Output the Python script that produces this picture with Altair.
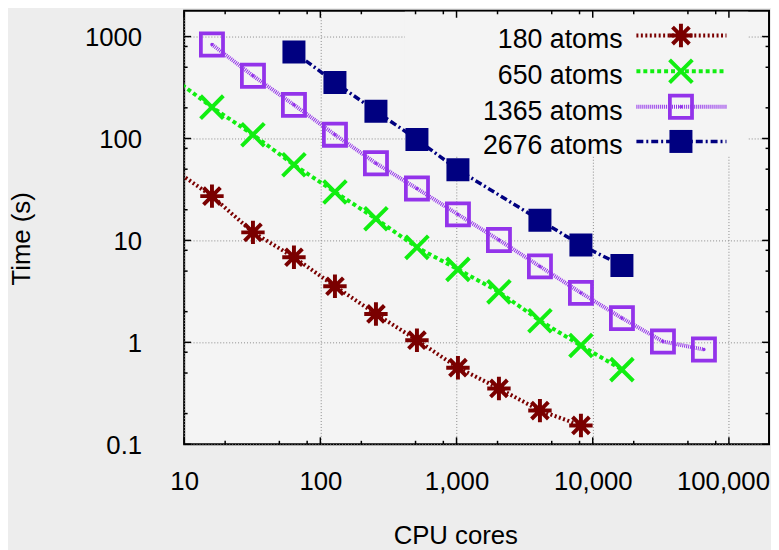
import altair as alt
import pandas as pd

# ---------------- data ----------------
series_names = ["180 atoms", "650 atoms", "1365 atoms", "2676 atoms"]

cores_180 = [8, 16, 32, 64, 128, 256, 512, 1024, 2048, 4096, 8192]
time_180 = [52, 27.2, 12.0, 6.84, 3.55, 1.9, 1.05, 0.564, 0.353, 0.214, 0.153]

cores_650 = [8, 16, 32, 64, 128, 256, 512, 1024, 2048, 4096, 8192, 16384]
time_650 = [405, 203, 109, 55.2, 29.9, 16.3, 8.55, 5.2, 3.13, 1.63, 0.93, 0.54]

cores_1365 = [16, 32, 64, 128, 256, 512, 1024, 2048, 4096, 8192, 16384, 32768, 65536]
time_1365 = [836, 413, 214, 109, 57.2, 32.3, 18.0, 10.1, 5.56, 3.06, 1.73, 1.02, 0.85]

cores_2676 = [64, 128, 256, 512, 1024, 4096, 8192, 16384]
time_2676 = [706, 355, 185, 98, 49.3, 15.8, 9.0, 5.68]

x_major = [10, 100, 1000, 10000, 100000]
x_minor = [20, 50, 80, 200, 500, 800, 2000, 5000, 8000, 20000, 50000, 80000]
y_major = [0.1, 1, 10, 100, 1000]
y_minor = [0.2, 0.5, 0.8, 2, 5, 8, 20, 50, 80, 200, 500, 800]

# ---------------- styling ----------------
W, H = 591, 438
FONT = "Liberation Sans"
BG = "#ededed"
PLOT_BG = "#f4f4f4"

colors = ["#7a0000", "#11ee11", "#9333ea", "#000080"]
dashes = [[2, 2.5], [4, 3], [1, 1], [7, 3, 2, 3]]
line_widths = [4, 4, 4, 3.5]

ASTERISK = "M-1,0L1,0M0,-1L0,1M-0.72,-0.72L0.72,0.72M-0.72,0.72L0.72,-0.72"
XCROSS = "M-1,-1L1,1M-1,1L1,-1"

marker_specs = [
    dict(shape=ASTERISK, filled=False, size=560, strokeWidth=4),
    dict(shape=XCROSS, filled=False, size=530, strokeWidth=4),
    dict(shape="square", filled=False, size=500, strokeWidth=3.8),
    dict(shape="square", filled=True, size=540, strokeWidth=0),
]

xscale = alt.Scale(type="log", domain=[10, 197000], nice=False)
yscale = alt.Scale(type="log", domain=[0.1, 1790], nice=False)

xaxis = alt.Axis(
    values=x_major, format=",", ticks=False, domain=False, grid=True,
    gridDash=[1, 2], gridColor="#8a8a8a", gridWidth=1,
    labelFont=FONT, labelFontSize=26, labelColor="black", labelPadding=25,
    labelOverlap=False, labelFlush=False,
    labelOffset={"expr": "datum.value >= 100000 ? -6 : 0"},
    title="CPU cores", titleFont=FONT, titleFontSize=26, titleFontWeight="normal",
    titleColor="black", titleX=274, titleY=100, titleAlign="center",
    titleBaseline="alphabetic",
)
yaxis = alt.Axis(
    values=y_major, format="~g", ticks=False, domain=False, grid=True,
    gridDash=[1, 2], gridColor="#8a8a8a", gridWidth=1,
    labelFont=FONT, labelFontSize=26, labelColor="black", labelPadding=43,
    labelOverlap=False, labelBaseline="middle", labelOffset=1.5,
    title="Time (s)", titleFont=FONT, titleFontSize=26, titleFontWeight="normal",
    titleColor="black", titleX=-156, titleY=230, titleAlign="center",
    titleBaseline="alphabetic", titleAngle=270,
)


def X(field):
    return alt.X(f"{field}:Q", scale=xscale, axis=xaxis)


def Y(field):
    return alt.Y(f"{field}:Q", scale=yscale, axis=yaxis)


one = pd.DataFrame({"a": [0]})
layers = []

# grid carrier (axes) – invisible
grid_df = pd.DataFrame({"cores": [10, 100], "time": [1, 10]})
layers.append(
    alt.Chart(grid_df).mark_point(opacity=0).encode(x=X("cores"), y=Y("time"))
)

# opaque legend box (hides grid lines beneath it)
layers.append(
    alt.Chart(one).mark_rect(fill=PLOT_BG, stroke=None).encode(
        x=alt.value(223), x2=alt.value(570), y=alt.value(1), y2=alt.value(147)
    )
)

all_x = [cores_180, cores_650, cores_1365, cores_2676]
all_y = [time_180, time_650, time_1365, time_2676]

# data lines and markers
for i, name in enumerate(series_names):
    df = pd.DataFrame({"cores": all_x[i], "time": all_y[i]})
    layers.append(
        alt.Chart(df).mark_line(
            color=colors[i], strokeDash=dashes[i], strokeWidth=line_widths[i], clip=True
        ).encode(x=X("cores"), y=Y("time"))
    )
    ms = marker_specs[i]
    layers.append(
        alt.Chart(df).mark_point(
            color=colors[i], opacity=1, clip=True, **ms
        ).encode(x=X("cores"), y=Y("time"))
    )
    if i == 2:
        layers.append(
            alt.Chart(df).mark_point(
                shape="circle", filled=True, color=colors[i], size=12, opacity=1, clip=True
            ).encode(x=X("cores"), y=Y("time"))
        )

# legend content
row_y = [25, 61, 97, 132]
for i, name in enumerate(series_names):
    ly = row_y[i]
    layers.append(
        alt.Chart(one).mark_text(
            text=name, align="right", baseline="alphabetic", font=FONT,
            fontSize=27, color="black"
        ).encode(x=alt.value(443), y=alt.value(ly + 13))
    )
    layers.append(
        alt.Chart(one).mark_rule(
            color=colors[i], strokeDash=dashes[i], strokeWidth=line_widths[i]
        ).encode(x=alt.value(457), x2=alt.value(548), y=alt.value(ly))
    )
    layers.append(
        alt.Chart(one).mark_point(color=colors[i], opacity=1, **marker_specs[i]).encode(
            x=alt.value(502), y=alt.value(ly)
        )
    )
    if i == 2:
        layers.append(
            alt.Chart(one).mark_point(
                shape="circle", filled=True, color=colors[i], size=12, opacity=1
            ).encode(x=alt.value(502), y=alt.value(ly))
        )

# inward ticks on all four sides
xmaj = pd.DataFrame({"v": x_major})
xmin = pd.DataFrame({"v": x_minor})
ymaj = pd.DataFrame({"v": y_major})
ymin = pd.DataFrame({"v": y_minor})
TK = dict(color="black", strokeWidth=1.5)
for dfv, ln in [(xmaj, 7), (xmin, 3.5)]:
    layers.append(alt.Chart(dfv).mark_rule(**TK).encode(
        x=X("v"), y=alt.value(H), y2=alt.value(H - ln)))
    layers.append(alt.Chart(dfv).mark_rule(**TK).encode(
        x=X("v"), y=alt.value(0), y2=alt.value(ln)))
for dfv, ln in [(ymaj, 7), (ymin, 3.5)]:
    layers.append(alt.Chart(dfv).mark_rule(**TK).encode(
        y=Y("v"), x=alt.value(0), x2=alt.value(ln)))
    layers.append(alt.Chart(dfv).mark_rule(**TK).encode(
        y=Y("v"), x=alt.value(W), x2=alt.value(W - ln)))

chart = alt.layer(*layers).properties(
    width=W,
    height=H,
    autosize=alt.AutoSizeParams(type="none"),
    padding={"left": 178, "top": 0, "right": 2, "bottom": 104},
    background=BG,
).configure_view(stroke="black", strokeWidth=2, fill=PLOT_BG)

chart.save("out.html", embed_options={"renderer": "svg", "actions": False})
